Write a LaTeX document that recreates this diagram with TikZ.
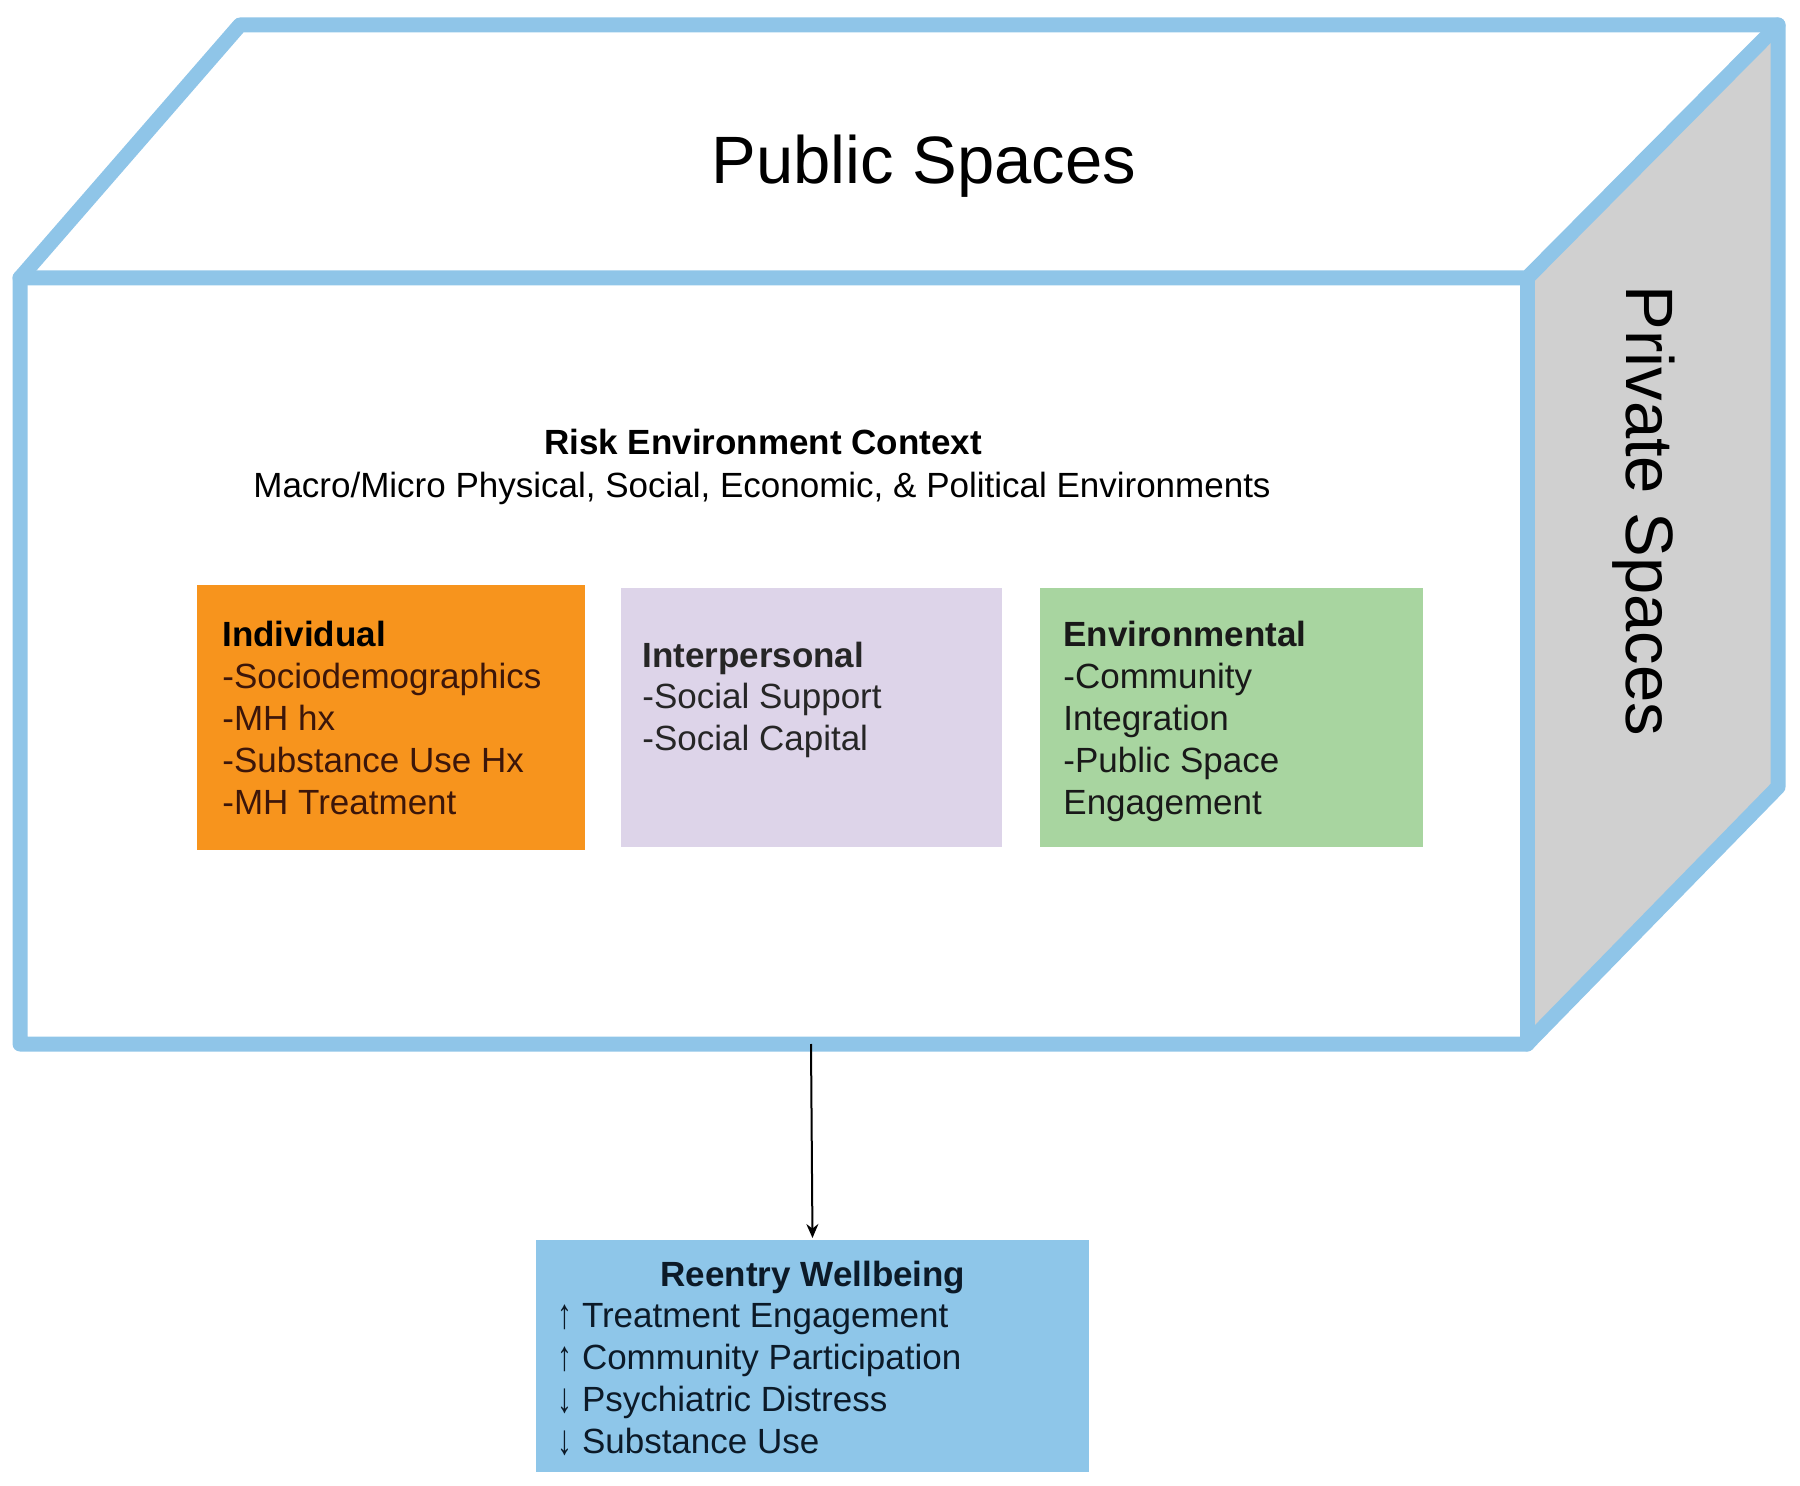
\documentclass[tikz,border=0pt]{standalone}
\usepackage{fontspec}
\setmainfont{Liberation Sans}
\usetikzlibrary{arrows.meta}
\definecolor{edgeblue}{RGB}{143,197,232}
\definecolor{sidegray}{RGB}{208,208,208}
\definecolor{indorange}{RGB}{247,148,29}
\definecolor{interlav}{RGB}{221,212,233}
\definecolor{envgreen}{RGB}{168,213,160}
\definecolor{reentblue}{RGB}{142,198,233}
\definecolor{indtext}{RGB}{60,22,10}
\definecolor{reenttext}{RGB}{12,26,40}
\newcommand{\uparr}{\raisebox{-0.5pt}{\scalebox{0.85}[1.2]{↑}}}
\newcommand{\dnarr}{\raisebox{-0.5pt}{\scalebox{0.85}[1.2]{↓}}}
\tikzset{
  edgeline/.style={draw=edgeblue, line width=7.5pt, line join=round, line cap=round},
  factorbox/.style={inner sep=0pt, outer sep=0pt, anchor=north west},
  bodytext/.style={inner sep=0pt, anchor=base west, align=left, font=\fontsize{17.5pt}{21pt}\selectfont},
  bigtext/.style={inner sep=0pt, font=\fontsize{33.5pt}{40pt}\selectfont},
  headtext/.style={inner sep=0pt, anchor=base, font=\fontsize{17.5pt}{21pt}\selectfont},
  arrowline/.style={draw=black, line width=1pt, shorten >=1pt, -{Stealth[length=7pt,width=6pt]}}
}
\begin{document}
\begin{tikzpicture}[x=0.5pt,y=-0.5pt]
\useasboundingbox (0,0) rectangle (1800,1486);
% side face
\fill[sidegray] (1527,278) -- (1778,25) -- (1778,787) -- (1527,1044) -- cycle;
% outline of box
\draw[edgeline] (20,278) -- (240,25) -- (1778,25) -- (1778,787) -- (1527,1044) -- (20,1044) -- cycle;
\draw[edgeline] (20,278) -- (1527,278) -- (1778,25);
\draw[edgeline] (1527,278) -- (1527,1044);
\coordinate (frontbot) at (811,1044);

% labels
\node[bigtext, anchor=base] (public) at (924,184) {Public Spaces};
\node[bigtext, anchor=base, rotate=-90] (private) at (1626,511) {Private Spaces};
\node[headtext] (risk) at (763,455) {\bfseries Risk Environment Context};
\node[headtext] (macro) at (762,498) {Macro/Micro Physical, Social, Economic, \& Political Environments};

% factor boxes
\node[factorbox, fill=indorange, minimum width=194pt, minimum height=132.5pt] (indiv) at (197,585) {};
\node[factorbox, fill=interlav, minimum width=190.5pt, minimum height=129.5pt] (inter) at (621,588) {};
\node[factorbox, fill=envgreen, minimum width=191.5pt, minimum height=129.5pt] (envir) at (1040,588) {};

% base anchor of a multi-line node = baseline of its last line
\node[bodytext, text=indtext] (indivtext) at (222,814) {{\color{black}\bfseries Individual}\\-Sociodemographics\\-MH hx\\-Substance Use Hx\\-MH Treatment};
\node[bodytext, text=black!85] (intertext) at (642,751) {{\bfseries Interpersonal}\\-Social Support\\-Social Capital};
\node[bodytext, text=black!90] (envirtext) at (1063,814) {{\bfseries Environmental}\\-Community\\Integration\\-Public Space\\Engagement};

% outcome box
\node[factorbox, fill=reentblue, minimum width=276.5pt, minimum height=116pt] (reentry) at (536,1240) {};
\node[headtext, text=reenttext] (reenttitle) at (813,1286) {\bfseries Reentry Wellbeing};
\node[bodytext, text=reenttext] (reentlist) at (557,1453) {\uparr\ Treatment Engagement\\\uparr\ Community Participation\\\dnarr\ Psychiatric Distress\\\dnarr\ Substance Use};

\draw[arrowline] (frontbot) -- (reentry.north);
\end{tikzpicture}
\end{document}
